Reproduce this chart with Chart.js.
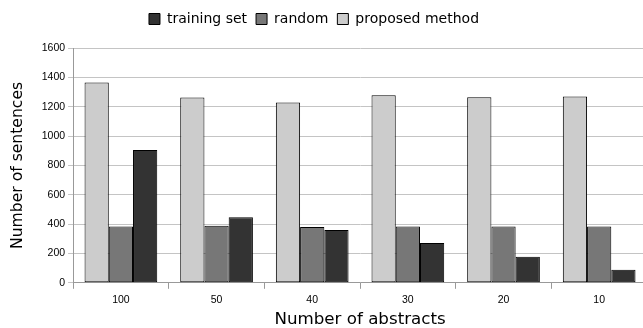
<!DOCTYPE html>
<html lang="en">
<head>
  <meta charset="UTF-8">
  <title>Number of sentences by number of abstracts</title>
  <script src="https://cdn.jsdelivr.net/npm/chart.js"></script>
  <style>
    body { margin: 0; background: #fff; overflow: hidden; }
    #wrap { width: 647px; height: 328px; position: relative; }
  </style>
</head>
<body>
  <div id="wrap">
    <canvas id="myChart"></canvas>
  </div>

  <script>
    // categories (x axis) and series
    const categories = ["100", "50", "40", "30", "20", "10"];
    const proposedMethod = [1365, 1262, 1228, 1278, 1265, 1270];
    const randomSel = [383, 388, 381, 383, 383, 383];
    const trainingSet = [905, 447, 360, 271, 178, 89];
    const yMax = 1600;
    const yStep = 200;

    // extra room under the legend, and nudge it a bit to the left
    const legendTweak = {
      id: "legendTweak",
      beforeInit(chart) {
        const fit = chart.legend.fit;
        chart.legend.fit = function () {
          fit.bind(chart.legend)();
          this.height += 12;
        };
      },
      afterLayout(chart) {
        chart.legend.left -= 14;
        chart.legend.right -= 14;
      }
    };

    function drawChart() {
      const ctx = document.getElementById("myChart").getContext("2d");

      new Chart(ctx, {
        type: "bar",
        data: {
          labels: categories,
          datasets: [
            { label: "proposed method", data: proposedMethod, backgroundColor: "#cccccc" },
            { label: "random", data: randomSel, backgroundColor: "#777777" },
            { label: "training set", data: trainingSet, backgroundColor: "#333333" }
          ].map(d => Object.assign(d, {
            borderColor: "#000000",
            borderWidth: 1,
            borderSkipped: false,
            categoryPercentage: 0.76,
            barPercentage: 1.0
          }))
        },
        plugins: [legendTweak],
        options: {
          responsive: true,
          maintainAspectRatio: false,
          animation: false,
          layout: { padding: { left: 9, right: 0, top: 3, bottom: 0 } },
          plugins: {
            tooltip: { enabled: false },
            legend: {
              position: "top",
              reverse: true,
              labels: {
                boxWidth: 11,
                boxHeight: 11,
                padding: 9,
                color: "#000",
                font: { family: "DejaVu Sans", size: 14 }
              }
            }
          },
          scales: {
            x: {
              grid: { drawOnChartArea: false, tickLength: 6, color: "#999" },
              border: { color: "#999" },
              ticks: {
                color: "#000",
                font: { family: "Liberation Sans", size: 10.5, lineHeight: 1 },
                padding: 6
              },
              title: {
                display: true,
                text: "Number of abstracts",
                color: "#000",
                font: { family: "DejaVu Sans", size: 16.7, lineHeight: 1 },
                padding: { top: 0, bottom: 0 }
              }
            },
            y: {
              min: 0,
              max: yMax,
              ticks: {
                stepSize: yStep,
                color: "#000",
                font: { family: "Liberation Sans", size: 10.5 },
                padding: 3,
                callback: v => String(v)
              },
              grid: { color: "#c4c4c4", tickLength: 5 },
              border: { color: "#999" },
              title: {
                display: true,
                text: "Number of sentences",
                color: "#000",
                font: { family: "DejaVu Sans", size: 15.6 },
                padding: { top: 0, bottom: 11 }
              }
            }
          }
        }
      });
    }

    document.addEventListener("DOMContentLoaded", drawChart);
  </script>
</body>
</html>
